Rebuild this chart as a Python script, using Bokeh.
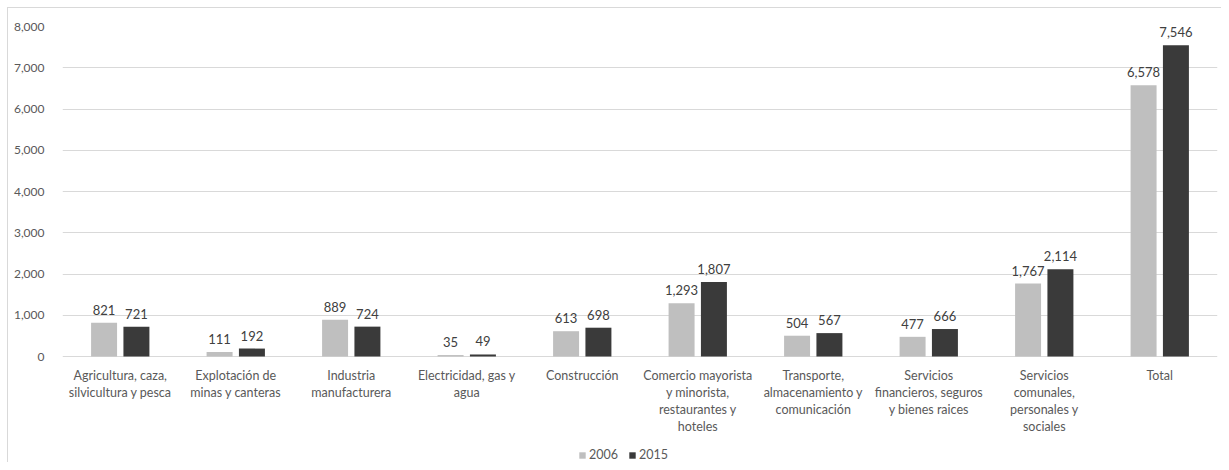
from bokeh.plotting import figure
from bokeh.models import ColumnDataSource, LabelSet, Legend, LegendItem, FixedTicker, NumeralTickFormatter, FactorRange, Range1d
from bokeh.core.properties import value
from bokeh.transform import dodge
from bokeh.embed import file_html
from bokeh.resources import INLINE

categories = [
    "Agricultura, caza,\nsilvicultura y pesca",
    "Explotación de\nminas y canteras",
    "Industria\nmanufacturera",
    "Electricidad, gas y\nagua",
    "Construcción",
    "Comercio mayorista\ny minorista,\nrestaurantes y\nhoteles",
    "Transporte,\nalmacenamiento y\ncomunicación",
    "Servicios\nfinancieros, seguros\ny bienes raices",
    "Servicios\ncomunales,\npersonales y\nsociales",
    "Total",
]
series_names = ["2006", "2015"]
values_2006 = [821, 111, 889, 35, 613, 1293, 504, 477, 1767, 6578]
values_2015 = [721, 192, 724, 49, 698, 1807, 567, 666, 2114, 7546]
y_ticks = [0, 1000, 2000, 3000, 4000, 5000, 6000, 7000, 8000]

FONT = "Lato"
TEXT = "#595959"

src = ColumnDataSource(dict(
    cat=categories,
    v06=values_2006,
    v15=values_2015,
    l06=[f"{v:,}" for v in values_2006],
    l15=[f"{v:,}" for v in values_2015],
))

# plot area: 330 px for 0..8000, plus 106 px below zero for category labels and legend
PX_DATA = 330
PX_BELOW = 106
y_min = -PX_BELOW * max(y_ticks) / PX_DATA

p = figure(
    frame_width=1155, frame_height=PX_DATA + PX_BELOW,
    x_range=FactorRange(*categories, range_padding=0),
    y_range=Range1d(y_min, max(y_ticks)),
    output_backend="svg", toolbar_location=None,
    min_border_left=54, min_border_top=18, min_border_right=4, min_border_bottom=0,
)
p.margin = (7, 0, 0, 7)
p.styles = {"border-left": "1px solid #D9D9D9", "border-top": "1px solid #D9D9D9"}
p.outline_line_color = None

off = 0.14
w = 0.225
r1 = p.vbar(x=dodge("cat", -off, range=p.x_range), top="v06", width=w, source=src,
            fill_color="#BFBFBF", line_color=None)
r2 = p.vbar(x=dodge("cat", off, range=p.x_range), top="v15", width=w, source=src,
            fill_color="#3A3A3A", line_color=None)

for xo, col, ycol in [(-off, "l06", "v06"), (off, "l15", "v15")]:
    p.add_layout(LabelSet(
        x=dodge("cat", xo, range=p.x_range), y=ycol,
        text=col, source=src, text_align="center", text_baseline="bottom",
        y_offset=8, text_font=value(FONT), text_font_size="13px", text_color="#404040",
    ))

# category labels below the zero line, one LabelSet per text line so each line is centred
max_lines = max(len(c.split("\n")) for c in categories)
for i in range(max_lines):
    xs, ts = [], []
    for c in categories:
        parts = c.split("\n")
        if i < len(parts):
            xs.append(c)
            ts.append(parts[i])
    line_src = ColumnDataSource(dict(x=xs, y=[0] * len(xs), t=ts))
    p.add_layout(LabelSet(
        x="x", y="y", text="t", source=line_src, text_align="center", text_baseline="top",
        y_offset=-11 - 17 * i, text_font=value(FONT), text_font_size="12.5px", text_color=TEXT,
    ))

p.xaxis.visible = False

p.yaxis.ticker = FixedTicker(ticks=y_ticks)
p.yaxis.formatter = NumeralTickFormatter(format="0,0")
p.yaxis.axis_line_color = None
p.yaxis.major_tick_line_color = None
p.yaxis.minor_tick_line_color = None
p.yaxis.major_label_standoff = 12
p.yaxis.major_label_text_font = FONT
p.yaxis.major_label_text_font_size = "12px"
p.yaxis.major_label_text_color = TEXT

p.xgrid.grid_line_color = None
p.ygrid.grid_line_color = "#D9D9D9"

legend = Legend(items=[LegendItem(label=series_names[0], renderers=[r1]),
                       LegendItem(label=series_names[1], renderers=[r2])],
                orientation="horizontal", location=(516, 0),
                label_text_font=FONT, label_text_font_size="12.5px", label_text_color=TEXT,
                label_height=14, glyph_width=8, glyph_height=8, label_standoff=3, spacing=10,
                border_line_color=None, background_fill_alpha=0, padding=2, margin=0)
p.add_layout(legend, "center")

open("out.html", "w").write(file_html(p, INLINE))
